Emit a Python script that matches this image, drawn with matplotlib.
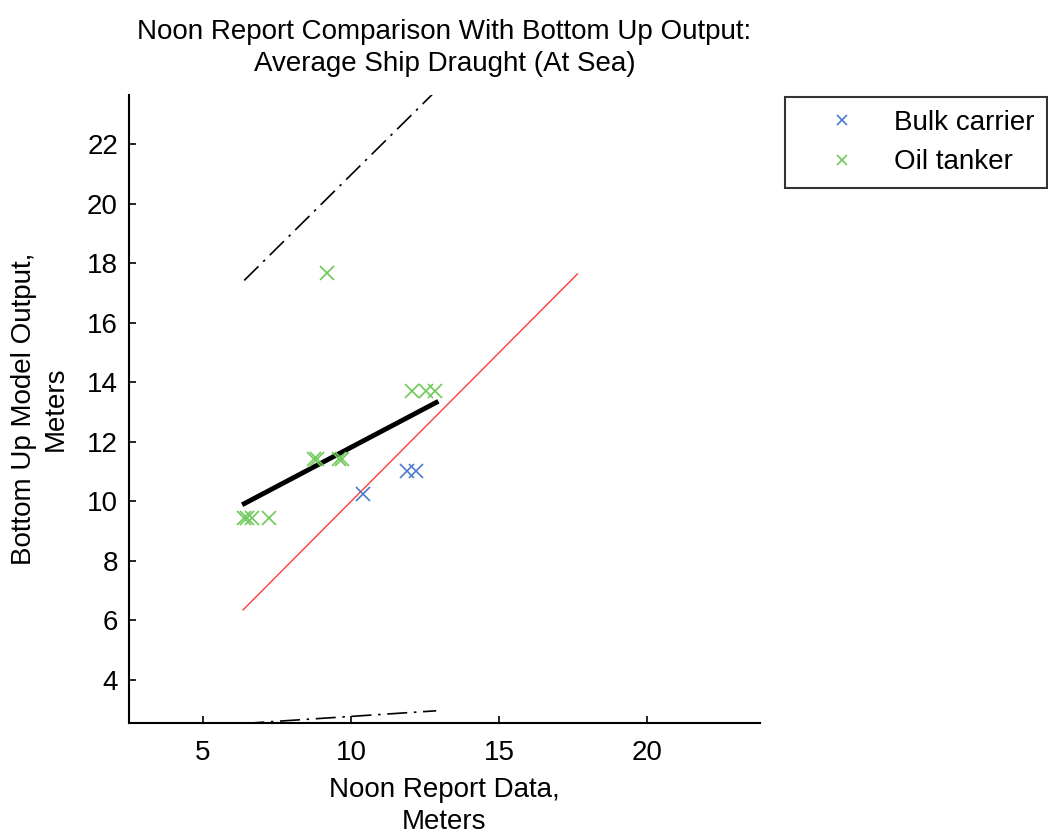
import matplotlib
matplotlib.use("Agg")
import matplotlib.pyplot as plt
import numpy as np

plt.rcParams['font.family'] = ['Liberation Sans', 'DejaVu Sans']

# Data
bulk_x = [10.41, 11.90, 12.19]
bulk_y = [10.25, 11.03, 11.03]

oil_x = [9.19, 12.06, 12.53, 12.84, 8.76, 8.86, 9.60, 9.70, 6.39, 6.50, 6.66, 7.23]
oil_y = [17.66, 13.69, 13.69, 13.69, 11.41, 11.41, 11.41, 11.41, 9.45, 9.45, 9.45, 9.45]

fit_x = [6.39, 12.87]
fit_y = [9.92, 13.32]
upper_y = [17.42, 23.80]
lower_y = [2.535, 2.96]

ref_x = [6.35, 17.64]
ref_y = [6.35, 17.64]

xticks = [5, 10, 15, 20]
yticks = [4, 6, 8, 10, 12, 14, 16, 18, 20, 22]

fig = plt.figure(figsize=(10.48, 8.36), dpi=100)
ax = fig.add_axes([129/1048, 1-723/836, 631/1048, 628/836])

fs = 20

ax.plot(ref_x, ref_y, color='#ff3b3b', lw=1.0, zorder=2)
ax.plot(fit_x, fit_y, color='black', lw=3.5, zorder=3)
ax.plot(fit_x, upper_y, color='black', lw=1.2, ls=(0, (12, 4, 1.5, 4)), zorder=3)
ax.plot(fit_x, lower_y, color='black', lw=1.2, ls=(0, (12, 4, 1.5, 4)), zorder=3)

ax.plot(bulk_x, bulk_y, ls='none', marker='x', ms=9.5, mew=1.2, color='#4a7ccc', label='Bulk carrier', zorder=4)
ax.plot(oil_x, oil_y, ls='none', marker='x', ms=9.5, mew=1.2, color='#6cc95a', label='Oil tanker', zorder=4)

ax.set_xlim(2.5, 23.8)
ax.set_ylim(2.55, 23.65)
ax.set_xticks(xticks)
ax.set_yticks(yticks)
ax.tick_params(direction='in', length=5, width=1.2, labelsize=fs, top=False, right=False)
ax.tick_params(axis='x', pad=12)
ax.tick_params(axis='y', pad=8)
for s in ['top', 'right']:
    ax.spines[s].set_visible(False)
for s in ['left', 'bottom']:
    ax.spines[s].set_linewidth(1.5)

ax.set_title('Noon Report Comparison With Bottom Up Output:\nAverage Ship Draught (At Sea)',
             fontsize=fs, pad=17, linespacing=1.3)
ax.set_xlabel('Noon Report Data,\nMeters', fontsize=fs, labelpad=8, linespacing=1.3)
ax.set_ylabel('Bottom Up Model Output,\nMeters', fontsize=fs, labelpad=13, linespacing=1.3)

leg = fig.legend(loc='upper left', bbox_to_anchor=(785/1048, 1-97/836), bbox_transform=fig.transFigure,
                 fontsize=fs, frameon=True, fancybox=False, edgecolor='black',
                 handlelength=3.22, handletextpad=0.25, borderpad=0.45, labelspacing=0.5,
                 borderaxespad=0, markerscale=0.8)
leg.get_frame().set_linewidth(1.5)

fig.savefig('out.png', dpi=100)
